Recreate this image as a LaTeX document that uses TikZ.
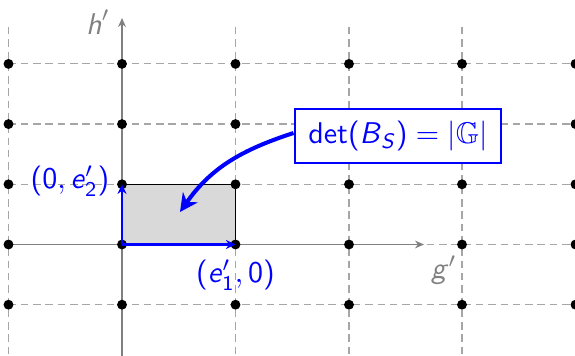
\documentclass[tikz,border=0pt]{standalone}
\usepackage{amsmath,amssymb}
\usetikzlibrary{arrows.meta}
\newcommand{\sfi}[1]{\textsf{\textit{#1}}}
\tikzset{
  gridline/.style={gray!70, line width=0.4pt, dash pattern=on 2.5pt off 1.6pt},
  axisline/.style={gray, line width=0.4pt, -{Stealth[length=3pt,width=2.6pt]}},
  axislabel/.style={text=gray, inner sep=1pt},
  latdot/.style={fill=black},
  basisvec/.style={blue, line width=0.8pt, -{Stealth[length=3.2pt,width=3pt]}},
  basislabel/.style={text=blue, inner sep=1pt},
  cell/.style={fill=gray!30, draw=black, line width=0.4pt},
  detbox/.style={draw=blue, line width=0.9pt, text=blue, fill=white, inner xsep=4.5pt, inner ysep=4pt},
  bigarrow/.style={blue, line width=1.35pt, -{Stealth[length=6pt,width=6pt]}}
}
\begin{document}
\begin{tikzpicture}[x=0.33333pt,y=-0.33333pt]
\useasboundingbox (0,0) rectangle (575,356);
% grid
\foreach \gx in {8.5,122,235.5,349,462,575.5}
  \draw[gridline] (\gx,27) -- (\gx,356);
\foreach \gy in {63.9,124.1,184.3,244.5,304.7}
  \draw[gridline] (8.5,\gy) -- (575,\gy);
% cell
\coordinate (O) at (122,244.5);
\coordinate (E1) at (235.5,244.5);
\coordinate (E2) at (122,184.3);
\coordinate (C) at (235.5,184.3);
\draw[cell] (O) rectangle (C);
% axes
\coordinate (XS) at (8.5,244.5);
\coordinate (XE) at (424,244.5);
\coordinate (YS) at (122,356);
\coordinate (YE) at (122,18);
\draw[axisline] (XS) -- (XE);
\draw[axisline] (YS) -- (YE);
\node[axislabel] (hl) at (98,22) {$\sfi{h}'$};
\node[axislabel] (gl) at (444,270) {$\sfi{g}'$};
% dots
\foreach \gx in {8.5,122,235.5,349,462,575.5}
  \foreach \gy in {63.9,124.1,184.3,244.5,304.7}
    \fill[latdot] (\gx,\gy) circle (1.65pt);
% basis vectors
\draw[basisvec] (O) -- (E1);
\draw[basisvec] (O) -- (E2);
\node[basislabel, anchor=east] (l2) at ([xshift=-3pt,yshift=1pt]E2) {$\textsf{(0}, \sfi{e}'_{\textsf{2}}\textsf{)}$};
\node[basislabel, anchor=north] (l1) at ([yshift=-4pt]E1) {$\textsf{(}\sfi{e}'_{\textsf{1}}, \textsf{0)}$};
% det box
\node[detbox] (box) at (398,136) {$\textsf{det(}\sfi{B}_{\sfi{S}}\textsf{)} = |\mathbb{G}|$};
\coordinate (tgt) at (180,212);
\draw[bigarrow] ([yshift=1pt]box.west) to[out=198, in=55] (tgt);
\end{tikzpicture}
\end{document}
